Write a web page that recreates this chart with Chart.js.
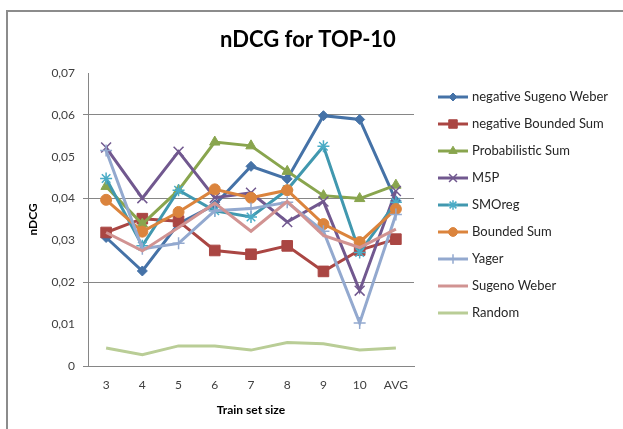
<!DOCTYPE html>
<html>
<head>
<meta charset="utf-8">
<title>nDCG for TOP-10</title>
<script src="https://cdn.jsdelivr.net/npm/chart.js@4.4.0/dist/chart.umd.min.js"></script>
<style>
  body { margin: 0; background: #fff; }
  #wrap { position: relative; width: 623px; height: 429px; overflow: hidden; }
  #frame { position: absolute; left: 6px; top: 10px; width: 660px; height: 460px; border: 2px solid #8c8c8c; }
  #grafico { position: absolute; left: 0; top: 0; }
</style>
</head>
<body>
<div id="wrap">
  <div id="frame"></div>
  <canvas id="grafico" width="623" height="429"></canvas>
</div>
<script>
// Datos
const trainSizes = ['3', '4', '5', '6', '7', '8', '9', '10', 'AVG'];
const yTicks = [0, 0.01, 0.02, 0.03, 0.04, 0.05, 0.06, 0.07];

const negSugenoWeber = [0.0307, 0.0227, 0.0340, 0.0385, 0.0477, 0.0447, 0.0598, 0.0589, 0.0395];
const negBoundedSum = [0.0319, 0.0352, 0.0346, 0.0276, 0.0267, 0.0287, 0.0226, 0.0277, 0.0303];
const probabilisticSum = [0.0429, 0.0339, 0.0420, 0.0535, 0.0526, 0.0465, 0.0407, 0.0400, 0.0432];
const m5p = [0.0522, 0.0401, 0.0512, 0.0402, 0.0414, 0.0344, 0.0393, 0.0180, 0.0418];
const smoReg = [0.0448, 0.0287, 0.0420, 0.0371, 0.0356, 0.0421, 0.0525, 0.0271, 0.0391];
const boundedSum = [0.0397, 0.0321, 0.0368, 0.0422, 0.0402, 0.0420, 0.0339, 0.0296, 0.0375];
const yager = [0.0515, 0.0280, 0.0293, 0.0371, 0.0376, 0.0391, 0.0322, 0.0103, 0.0362];
const sugenoWeber = [0.0319, 0.0275, 0.0331, 0.0389, 0.0322, 0.0393, 0.0312, 0.0283, 0.0327];
const random = [0.0043, 0.0027, 0.0048, 0.0048, 0.0038, 0.0056, 0.0053, 0.0038, 0.0043];

const TITULO = 'nDCG for TOP-10';
const FUENTE = 'Lato, "Open Sans", sans-serif';

// Funcion para crear cada serie
function serie(label, data, color, pointStyle, radius, borderWidth, markerColor) {
    return {
        label: label,
        data: data,
        borderColor: color,
        backgroundColor: markerColor || color,
        pointBackgroundColor: markerColor || color,
        pointBorderColor: markerColor || color,
        pointStyle: pointStyle || 'circle',
        pointRadius: pointStyle ? radius : 0,
        pointHoverRadius: pointStyle ? radius : 0,
        pointBorderWidth: borderWidth,
        borderWidth: 3,
        tension: 0,
        fill: false
    };
}

const datasets = [
    serie('negative Sugeno Weber', negSugenoWeber, '#4572A7', 'rectRot', 5, 1),
    serie('negative Bounded Sum', negBoundedSum, '#AA4643', 'rect', 7.5, 1),
    serie('Probabilistic Sum', probabilisticSum, '#89A54E', 'triangle', 6, 1),
    serie('M5P', m5p, '#71588F', 'crossRot', 7, 1.5),
    serie('SMOreg', smoReg, '#4198AF', 'star', 6, 1.5, '#4BACC6'),
    serie('Bounded Sum', boundedSum, '#DB843D', 'circle', 5.5, 1),
    serie('Yager', yager, '#93A9CF', 'cross', 6, 1.5),
    serie('Sugeno Weber', sugenoWeber, '#D19392', null, 0, 0),
    serie('Random', random, '#B9CD96', null, 0, 0)
];
// Excel dibuja las ultimas series encima
datasets.forEach((d, i) => { d.order = datasets.length - i; });

// Titulo y leyenda con linea y marcador
const leyenda = {
    id: 'leyenda',
    afterDraw(chart) {
        const ctx = chart.ctx;
        ctx.save();
        ctx.fillStyle = '#000';
        ctx.font = 'bold 22px ' + FUENTE;
        ctx.textAlign = 'center';
        ctx.textBaseline = 'middle';
        ctx.fillText(TITULO, 308, 40);

        const x0 = 438, x1 = 468, yStart = 97, paso = 27;
        chart.data.datasets.forEach((d, i) => {
            const y = yStart + i * paso;
            ctx.strokeStyle = d.borderColor;
            ctx.lineWidth = 3;
            ctx.beginPath();
            ctx.moveTo(x0, y);
            ctx.lineTo(x1, y);
            ctx.stroke();
            if (d.pointRadius > 0) {
                ctx.fillStyle = d.pointBackgroundColor;
                ctx.strokeStyle = d.pointBorderColor;
                ctx.lineWidth = d.pointBorderWidth;
                Chart.helpers.drawPoint(ctx, {
                    pointStyle: d.pointStyle,
                    radius: d.pointRadius * 0.8,
                    borderWidth: d.pointBorderWidth,
                    rotation: 0
                }, (x0 + x1) / 2, y);
            }
            ctx.fillStyle = '#262626';
            ctx.font = '13px ' + FUENTE;
            ctx.textAlign = 'left';
            ctx.textBaseline = 'middle';
            ctx.fillText(d.label, x1 + 4, y);
        });
        ctx.restore();
    }
};

const esPar = v => Math.round(v * 100) % 2 === 0;

new Chart(document.getElementById('grafico').getContext('2d'), {
    type: 'line',
    data: { labels: trainSizes, datasets: datasets },
    options: {
        responsive: false,
        animation: false,
        layout: { padding: { left: 0, right: 209, top: 73, bottom: 13 } },
        plugins: {
            legend: { display: false },
            tooltip: { enabled: false },
            title: { display: false }
        },
        scales: {
            x: {
                offset: true,
                grid: { display: false, drawTicks: false },
                border: { display: true, color: '#868686', width: 1 },
                ticks: {
                    color: '#404040',
                    padding: 13,
                    maxRotation: 0,
                    font: { family: FUENTE, size: 12, lineHeight: 1 }
                },
                title: {
                    display: true,
                    text: 'Train set size',
                    color: '#000',
                    font: { family: FUENTE, size: 12, weight: 'bold', lineHeight: 1 },
                    padding: { top: 0, bottom: 0 }
                }
            },
            y: {
                min: 0,
                max: 0.07,
                afterFit(scale) { scale.width = 88; },
                afterBuildTicks(scale) { scale.ticks = yTicks.map(v => ({ value: v })); },
                grid: {
                    color: c => (c.tick && esPar(c.tick.value) && c.tick.value > 0 && c.tick.value < 0.07) ? '#868686' : 'rgba(0,0,0,0)',
                    tickColor: c => (c.tick && esPar(c.tick.value) && c.tick.value < 0.07) ? '#868686' : 'rgba(0,0,0,0)',
                    tickLength: 5,
                    lineWidth: 1
                },
                border: { display: true, color: '#868686', width: 1 },
                ticks: {
                    color: '#404040',
                    padding: 8,
                    font: { family: FUENTE, size: 12 },
                    callback: v => v === 0 ? '0' : v.toFixed(2).replace('.', ',')
                },
                title: {
                    display: true,
                    text: 'nDCG',
                    color: '#000',
                    font: { family: FUENTE, size: 12, weight: 'bold' },
                    padding: { top: 26, bottom: 0 }
                }
            }
        }
    },
    plugins: [leyenda]
});
</script>
</body>
</html>
